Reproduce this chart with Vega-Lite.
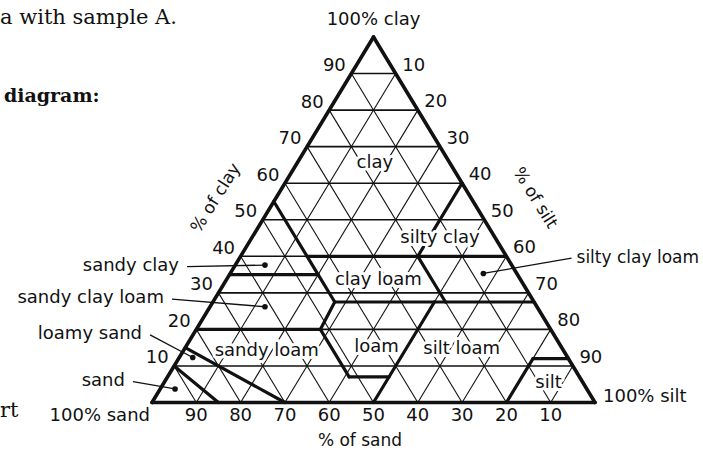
{
  "$schema": "https://vega.github.io/schema/vega-lite/v6.json",
  "width": 703,
  "height": 450,
  "padding": 0,
  "autosize": {"type": "none"},
  "background": "white",
  "config": {"view": {"stroke": null}, "text": {"font": "DejaVu Sans", "fontSize": 18, "color": "#111"}},
  "datasets": {
    "hgrid": [
      {"h": 5, "c": 10, "h2": 95, "c2": 10},
      {"h": 10, "c": 20, "h2": 90, "c2": 20},
      {"h": 15, "c": 30, "h2": 85, "c2": 30},
      {"h": 20, "c": 40, "h2": 80, "c2": 40},
      {"h": 25, "c": 50, "h2": 75, "c2": 50},
      {"h": 30, "c": 60, "h2": 70, "c2": 60},
      {"h": 35, "c": 70, "h2": 65, "c2": 70},
      {"h": 40, "c": 80, "h2": 60, "c2": 80},
      {"h": 45, "c": 90, "h2": 55, "c2": 90}
    ],
    "dgrid": [
      {"h": 10, "c": 0, "h2": 55, "c2": 90},
      {"h": 20, "c": 0, "h2": 60, "c2": 80},
      {"h": 30, "c": 0, "h2": 65, "c2": 70},
      {"h": 40, "c": 0, "h2": 70, "c2": 60},
      {"h": 50, "c": 0, "h2": 75, "c2": 50},
      {"h": 60, "c": 0, "h2": 80, "c2": 40},
      {"h": 70, "c": 0, "h2": 85, "c2": 30},
      {"h": 80, "c": 0, "h2": 90, "c2": 20},
      {"h": 90, "c": 0, "h2": 95, "c2": 10},
      {"h": 90, "c": 0, "h2": 45, "c2": 90},
      {"h": 80, "c": 0, "h2": 40, "c2": 80},
      {"h": 70, "c": 0, "h2": 35, "c2": 70},
      {"h": 60, "c": 0, "h2": 30, "c2": 60},
      {"h": 50, "c": 0, "h2": 25, "c2": 50},
      {"h": 40, "c": 0, "h2": 20, "c2": 40},
      {"h": 30, "c": 0, "h2": 15, "c2": 30},
      {"h": 20, "c": 0, "h2": 10, "c2": 20},
      {"h": 10, "c": 0, "h2": 5, "c2": 10}
    ],
    "bounds": [
      {"h": 27.5, "c": 55, "h2": 37.5, "c2": 35},
      {"h": 37.5, "c": 35, "h2": 41.25, "c2": 27.5},
      {"h": 17.5, "c": 35, "h2": 37.5, "c2": 35},
      {"h": 35, "c": 40, "h2": 80, "c2": 40},
      {"h": 60, "c": 40, "h2": 70, "c2": 60},
      {"h": 60, "c": 40, "h2": 66.25, "c2": 27.5},
      {"h": 41.25, "c": 27.5, "h2": 86.25, "c2": 27.5},
      {"h": 41.25, "c": 27.5, "h2": 38, "c2": 20},
      {"h": 10, "c": 20, "h2": 38, "c2": 20},
      {"h": 38, "c": 20, "h2": 44.5, "c2": 7},
      {"h": 44.5, "c": 7, "h2": 53.5, "c2": 7},
      {"h": 63.75, "c": 27.5, "h2": 50, "c2": 0},
      {"h": 80, "c": 0, "h2": 86, "c2": 12},
      {"h": 86, "c": 12, "h2": 94, "c2": 12},
      {"h": 7.5, "c": 15, "h2": 30, "c2": 0},
      {"h": 5, "c": 10, "h2": 15, "c2": 0}
    ],
    "outline": [
      {"h": 0, "c": 0, "h2": 100, "c2": 0},
      {"h": 0, "c": 0, "h2": 50, "c2": 100},
      {"h": 100, "c": 0, "h2": 50, "c2": 100}
    ],
    "classes": [
      {"text": "clay", "h": 50.3, "c": 65.6},
      {"text": "silty clay", "h": 65.0, "c": 44.9},
      {"text": "clay loam", "h": 51.1, "c": 33.5},
      {"text": "sandy loam", "h": 25.9, "c": 14.1},
      {"text": "loam", "h": 50.7, "c": 15.3},
      {"text": "silt loam", "h": 69.9, "c": 14.6},
      {"text": "silt", "h": 89.5, "c": 5.2}
    ],
    "callouts": [
      {"label": "sandy clay", "side": "L", "h": 7.9, "c": 37.15, "h2": 25.5, "c2": 37.6},
      {"label": "sandy clay loam", "side": "L", "h": 4.5, "c": 28.3, "h2": 25.5, "c2": 26.2},
      {"label": "loamy sand", "side": "L", "h": -0.45, "c": 18.5, "h2": 9.2, "c2": 12.3},
      {"label": "sand", "side": "L", "h": -4.3, "c": 5.7, "h2": 5.2, "c2": 3.7},
      {"label": "silty clay loam", "side": "R", "h": 94.7, "c": 39.5, "h2": 74.8, "c2": 35.3}
    ],
    "leftNums": [
      {"h": 5, "c": 10, "t": "10"}, {"h": 10, "c": 20, "t": "20"}, {"h": 15, "c": 30, "t": "30"},
      {"h": 20, "c": 40, "t": "40"}, {"h": 25, "c": 50, "t": "50"}, {"h": 30, "c": 60, "t": "60"},
      {"h": 35, "c": 70, "t": "70"}, {"h": 40, "c": 80, "t": "80"}, {"h": 45, "c": 90, "t": "90"}
    ],
    "rightNums": [
      {"h": 55, "c": 90, "t": "10"}, {"h": 60, "c": 80, "t": "20"}, {"h": 65, "c": 70, "t": "30"},
      {"h": 70, "c": 60, "t": "40"}, {"h": 75, "c": 50, "t": "50"}, {"h": 80, "c": 40, "t": "60"},
      {"h": 85, "c": 30, "t": "70"}, {"h": 90, "c": 20, "t": "80"}, {"h": 95, "c": 10, "t": "90"}
    ],
    "baseNums": [
      {"h": 10, "c": 0, "t": "90"}, {"h": 20, "c": 0, "t": "80"}, {"h": 30, "c": 0, "t": "70"},
      {"h": 40, "c": 0, "t": "60"}, {"h": 50, "c": 0, "t": "50"}, {"h": 60, "c": 0, "t": "40"},
      {"h": 70, "c": 0, "t": "30"}, {"h": 80, "c": 0, "t": "20"}, {"h": 90, "c": 0, "t": "10"}
    ],
    "page": [
      {"t": "a with sample A.", "h": -34.31, "c": 103.56, "w": "normal"},
      {"t": "diagram:", "h": -33.41, "c": 82.35, "w": "bold"},
      {"t": "rt", "h": -34.31, "c": -4.1, "w": "normal"}
    ]
  },
  "encoding": {
    "x": {"field": "h", "type": "quantitative", "scale": {"domain": [-34.312, 124.379], "nice": false, "zero": false}, "axis": null},
    "y": {"field": "c", "type": "quantitative", "scale": {"domain": [-12.996, 110.123], "nice": false, "zero": false}, "axis": null}
  },
  "layer": [
    {"data": {"name": "hgrid"}, "mark": {"type": "rule", "strokeWidth": 1.6, "color": "#111"}, "encoding": {"x2": {"field": "h2"}, "y2": {"field": "c2"}}},
    {"data": {"name": "dgrid"}, "mark": {"type": "rule", "strokeWidth": 1.1, "color": "#111"}, "encoding": {"x2": {"field": "h2"}, "y2": {"field": "c2"}}},
    {"data": {"name": "bounds"}, "mark": {"type": "rule", "strokeWidth": 3.2, "strokeCap": "round", "color": "#111"}, "encoding": {"x2": {"field": "h2"}, "y2": {"field": "c2"}}},
    {"data": {"name": "outline"}, "mark": {"type": "rule", "strokeWidth": 3.6, "strokeCap": "round", "color": "#111"}, "encoding": {"x2": {"field": "h2"}, "y2": {"field": "c2"}}},
    {"data": {"name": "classes"}, "mark": {"type": "text", "fontSize": 18, "fill": "white", "stroke": "white", "strokeWidth": 6, "strokeJoin": "round"}, "encoding": {"text": {"field": "text"}}},
    {"data": {"name": "classes"}, "mark": {"type": "text", "fontSize": 18, "fill": "#111"}, "encoding": {"text": {"field": "text"}}},
    {"data": {"name": "callouts"}, "mark": {"type": "rule", "strokeWidth": 1.3, "color": "#111"}, "encoding": {"x2": {"field": "h2"}, "y2": {"field": "c2"}}},
    {"data": {"name": "callouts"}, "mark": {"type": "point", "filled": true, "size": 32, "opacity": 1, "color": "#111"},
      "encoding": {
        "x": {"field": "h2", "type": "quantitative", "scale": {"domain": [-34.312, 124.379], "nice": false, "zero": false}, "axis": null},
        "y": {"field": "c2", "type": "quantitative", "scale": {"domain": [-12.996, 110.123], "nice": false, "zero": false}, "axis": null}
      }},
    {"data": {"name": "callouts"}, "transform": [{"filter": "datum.side === 'L'"}], "mark": {"type": "text", "fontSize": 18, "align": "right", "dx": -8, "dy": -1, "fill": "#111"}, "encoding": {"text": {"field": "label"}}},
    {"data": {"name": "callouts"}, "transform": [{"filter": "datum.side === 'R'"}], "mark": {"type": "text", "fontSize": 17, "align": "left", "dx": 5, "dy": 0, "fill": "#111"}, "encoding": {"text": {"field": "label"}}},
    {"data": {"name": "leftNums"}, "mark": {"type": "text", "fontSize": 18, "dx": -17, "dy": -7.5, "fill": "#111"}, "encoding": {"text": {"field": "t"}}},
    {"data": {"name": "rightNums"}, "mark": {"type": "text", "fontSize": 18, "dx": 18, "dy": -8, "fill": "#111"}, "encoding": {"text": {"field": "t"}}},
    {"data": {"name": "baseNums"}, "mark": {"type": "text", "fontSize": 18, "dy": 13.5, "fill": "#111"}, "encoding": {"text": {"field": "t"}}},
    {"data": {"values": [{"t": "100% clay", "h": 50, "c": 100}]}, "mark": {"type": "text", "fontSize": 18, "dy": -17, "fill": "#111"}, "encoding": {"text": {"field": "t"}}},
    {"data": {"values": [{"t": "100% sand", "h": 0, "c": 0}]}, "mark": {"type": "text", "fontSize": 18, "align": "right", "dx": -2, "dy": 14, "fill": "#111"}, "encoding": {"text": {"field": "t"}}},
    {"data": {"values": [{"t": "100% silt", "h": 100, "c": 0}]}, "mark": {"type": "text", "fontSize": 18, "align": "left", "dx": 8, "dy": -5, "fill": "#111"}, "encoding": {"text": {"field": "t"}}},
    {"data": {"values": [{"t": "% of clay", "h": 14.45, "c": 55.95}]}, "mark": {"type": "text", "fontSize": 17, "angle": 302, "fill": "#111"}, "encoding": {"text": {"field": "t"}}},
    {"data": {"values": [{"t": "% of silt", "h": 86.46, "c": 55.95}]}, "mark": {"type": "text", "fontSize": 17, "angle": 58, "fill": "#111"}, "encoding": {"text": {"field": "t"}}},
    {"data": {"values": [{"t": "% of sand", "h": 46.95, "c": -10.5}]}, "mark": {"type": "text", "fontSize": 17, "fill": "#111"}, "encoding": {"text": {"field": "t"}}},
    {"data": {"name": "page"}, "transform": [{"filter": "datum.w === 'normal'"}], "mark": {"type": "text", "font": "DejaVu Serif", "fontSize": 21, "align": "left", "baseline": "alphabetic", "fill": "#111"}, "encoding": {"text": {"field": "t"}}},
    {"data": {"name": "page"}, "transform": [{"filter": "datum.w === 'bold'"}], "mark": {"type": "text", "font": "DejaVu Serif", "fontWeight": "bold", "fontSize": 19, "align": "left", "baseline": "alphabetic", "fill": "#111"}, "encoding": {"text": {"field": "t"}}}
  ]
}
